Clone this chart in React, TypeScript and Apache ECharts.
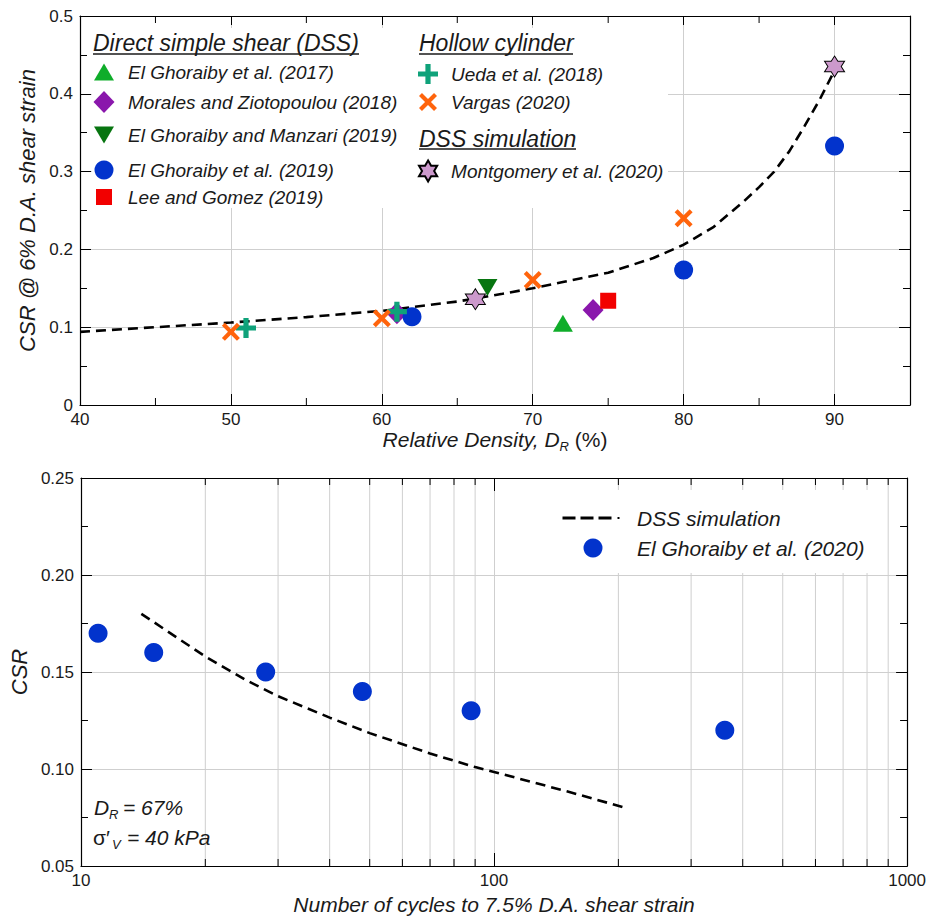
import React, { useEffect, useRef } from 'react';
import * as echarts from 'echarts';

// ---------- DATA (top panel) ----------
const DR_CURVE = [40, 45, 50, 55, 60, 65, 68, 70, 72, 75, 78, 80, 82, 84, 85, 86, 87, 88, 89, 90];
const CSR_CURVE = [0.094, 0.1, 0.106, 0.113, 0.121, 0.133, 0.143, 0.15, 0.158, 0.17, 0.189, 0.206, 0.229, 0.262, 0.28, 0.3, 0.326, 0.358, 0.392, 0.43];

const EG2017_DR = [72];
const EG2017_CSR = [0.105];
const MZ2018_DR = [61, 74];
const MZ2018_CSR = [0.118, 0.122];
const EGM2019_DR = [67];
const EGM2019_CSR = [0.151];
const EG2019_DR = [62, 80, 90];
const EG2019_CSR = [0.1135, 0.1735, 0.333];
const LG2019_DR = [75];
const LG2019_CSR = [0.134];
const UEDA_DR = [51, 61];
const UEDA_CSR = [0.099, 0.12];
const VARGAS_DR = [50, 60, 70, 80];
const VARGAS_CSR = [0.094, 0.1115, 0.1607, 0.24];
const MONT_DR = [66.2, 90];
const MONT_CSR = [0.136, 0.435];

const DR_MINOR_TICKS = [45, 55, 65, 75, 85];

// ---------- DATA (bottom panel) ----------
const SIM_N = [14, 17, 20, 25, 30, 40, 50, 70, 90, 100, 150, 208];
const SIM_CSR = [0.18, 0.168, 0.158, 0.146, 0.1375, 0.1265, 0.1185, 0.108, 0.101, 0.0985, 0.0885, 0.08];
const EXP_N = [11, 15, 28, 48, 88, 362];
const EXP_CSR = [0.17, 0.16, 0.15, 0.14, 0.13, 0.12];
const N_MINOR = [20, 30, 40, 50, 60, 70, 80, 90, 200, 300, 400, 500, 600, 700, 800, 900];

const NAMES = {
  eg2017: 'El Ghoraiby et al. (2017)',
  mz2018: 'Morales and Ziotopoulou (2018)',
  egm2019: 'El Ghoraiby and Manzari (2019)',
  eg2019: 'El Ghoraiby et al. (2019)',
  lg2019: 'Lee and Gomez (2019)',
  ueda: 'Ueda et al. (2018)',
  vargas: 'Vargas (2020)',
  mont: 'Montgomery et al. (2020)',
  sim: 'DSS simulation',
  eg2020: 'El Ghoraiby et al. (2020)',
};

const FONT = '"Liberation Sans", Arial, Helvetica, sans-serif';
const TXT = '#1a1a1a';
const GRIDC = '#cfcfcf';

const C_GREEN = '#0fad2a';
const C_PURPLE = '#8a17ac';
const C_DKGREEN = '#077510';
const C_BLUE = '#0233cc';
const C_RED = '#f20000';
const C_TEAL = '#0fa27a';
const C_ORANGE = '#ff640c';
const C_STAR = '#cc99cc';

const SYM_DOWN = 'path://M0,0L20,0L10,17Z';
const SYM_PLUS = 'path://M7.4,0L12.6,0L12.6,7.4L20,7.4L20,12.6L12.6,12.6L12.6,20L7.4,20L7.4,12.6L0,12.6L0,7.4L7.4,7.4Z';
const SYM_X = 'path://M0,3.3L3.3,0L10,6.7L16.7,0L20,3.3L13.3,10L20,16.7L16.7,20L10,13.3L3.3,20L0,16.7L6.7,10Z';
const SYM_STAR = 'path://M10,0L12.887,5L18.66,5L15.774,10L18.66,15L12.887,15L10,20L7.113,15L1.34,15L4.226,10L1.34,5L7.113,5Z';
const ICON_DASH = 'path://M0,0L13,0L13,3L0,3Z M18,0L31,0L31,3L18,3Z M36,0L49,0L49,3L36,3Z M55,0.5L57,0.5L57,2.5L55,2.5Z';

const zip = (a: number[], b: number[]) => a.map((v, i) => [v, b[i]]);

const minorRender = (gridLine: boolean, yMin: number, yMax: number, len: number) => (params: any, api: any) => {
  const x = api.value(0);
  const b = api.coord([x, yMin]);
  const t = api.coord([x, yMax]);
  const children: any[] = [];
  if (gridLine) {
    children.push({ type: 'line', shape: { x1: b[0], y1: b[1], x2: t[0], y2: t[1] }, style: { stroke: GRIDC, lineWidth: 1 } });
  }
  children.push({ type: 'line', shape: { x1: b[0], y1: b[1], x2: b[0], y2: b[1] - len }, style: { stroke: '#000', lineWidth: 1 } });
  children.push({ type: 'line', shape: { x1: t[0], y1: t[1], x2: t[0], y2: t[1] + len }, style: { stroke: '#000', lineWidth: 1 } });
  return { type: 'group', children };
};

const legendItem = (name: string, cx: number, cy: number, w: number, h: number, textX: number, fs: number, icon?: string) => {
  const lg: any = {
    data: [icon ? { name, icon } : name],
    left: cx - w / 2,
    top: cy - Math.max(h, fs) / 2,
    padding: 0,
    itemWidth: w,
    itemHeight: h,
    selectedMode: false,
    textStyle: {
      fontFamily: FONT,
      fontStyle: 'italic',
      fontSize: fs,
      color: TXT,
      padding: [0, 0, 0, Math.max(0, textX - (cx - w / 2 + w + 5))],
    },
  };
  if (icon) lg.itemStyle = { color: '#000', borderWidth: 0 };
  return lg;
};

const axisBase = {
  axisLine: { show: true, onZero: false, lineStyle: { color: '#000', width: 1.2 } },
  axisTick: { show: true, inside: true, length: 11, lineStyle: { color: '#000', width: 1 } },
};

const tickLabel = { color: TXT, fontSize: 17, fontFamily: FONT };
const solid = (c: string, extra: any = {}) => ({ color: c, opacity: 1, ...extra });

const option: any = {
  animation: false,
  backgroundColor: '#fff',
  grid: [
    { left: 80, right: 19, top: 16, bottom: 515 },
    { left: 77, right: 21, top: 478, bottom: 54 },
  ],
  xAxis: [
    {
      gridIndex: 0, type: 'value', min: 40, max: 95, interval: 10, position: 'bottom',
      ...axisBase,
      axisLabel: { ...tickLabel, margin: 6, showMaxLabel: false },
      splitLine: { show: true, lineStyle: { color: GRIDC, width: 1 } },
      name: '{a|Relative Density, D}{s|R}{b| (%)}',
      nameLocation: 'middle',
      nameGap: 19,
      nameTextStyle: {
        rich: {
          a: { fontFamily: FONT, fontStyle: 'italic', fontSize: 21, color: TXT, lineHeight: 24, verticalAlign: 'top' },
          s: { fontFamily: FONT, fontStyle: 'italic', fontSize: 13, color: TXT, lineHeight: 12, verticalAlign: 'bottom' },
          b: { fontFamily: FONT, fontSize: 21, color: TXT, lineHeight: 24, verticalAlign: 'top' },
        },
      },
    },
    {
      gridIndex: 0, type: 'value', min: 40, max: 95, interval: 10, position: 'top',
      ...axisBase,
      axisTick: { show: true, inside: true, length: 9, lineStyle: { color: '#000', width: 1 } },
      axisLabel: { show: false },
      splitLine: { show: false },
    },
    {
      gridIndex: 1, type: 'log', logBase: 10, min: 10, max: 1000, position: 'bottom',
      ...axisBase,
      axisTick: { show: true, inside: true, length: 13, lineStyle: { color: '#000', width: 1 } },
      axisLabel: { ...tickLabel, margin: 6, formatter: (v: number) => String(Math.round(v)) },
      splitLine: { show: true, lineStyle: { color: GRIDC, width: 1 } },
      name: 'Number of cycles to 7.5% D.A. shear strain',
      nameLocation: 'middle',
      nameGap: 28,
      nameTextStyle: { fontFamily: FONT, fontStyle: 'italic', fontSize: 21, color: TXT },
    },
    {
      gridIndex: 1, type: 'log', logBase: 10, min: 10, max: 1000, position: 'top',
      ...axisBase,
      axisTick: { show: true, inside: true, length: 13, lineStyle: { color: '#000', width: 1 } },
      axisLabel: { show: false },
      splitLine: { show: false },
    },
  ],
  yAxis: [
    {
      gridIndex: 0, type: 'value', min: 0, max: 0.5, interval: 0.1, position: 'left',
      ...axisBase,
      minorTick: { show: true, splitNumber: 2, length: 7, lineStyle: { color: '#000', width: 1 } },
      axisLabel: { ...tickLabel, margin: 7 },
      splitLine: { show: true, lineStyle: { color: GRIDC, width: 1 } },
      name: 'CSR @ 6% D.A. shear strain',
      nameLocation: 'middle',
      nameGap: 37,
      nameTextStyle: { fontFamily: FONT, fontStyle: 'italic', fontSize: 22, color: TXT },
    },
    {
      gridIndex: 0, type: 'value', min: 0, max: 0.5, interval: 0.1, position: 'right',
      ...axisBase,
      minorTick: { show: true, splitNumber: 2, length: 7, lineStyle: { color: '#000', width: 1 } },
      axisLabel: { show: false },
      splitLine: { show: false },
    },
    {
      gridIndex: 1, type: 'value', min: 0.05, max: 0.25, interval: 0.05, position: 'left',
      ...axisBase,
      minorTick: { show: true, splitNumber: 2, length: 7, lineStyle: { color: '#000', width: 1 } },
      axisLabel: { ...tickLabel, margin: 7, formatter: (v: number) => v.toFixed(2) },
      splitLine: { show: true, lineStyle: { color: GRIDC, width: 1 } },
      name: 'CSR',
      nameLocation: 'middle',
      nameGap: 42,
      nameTextStyle: { fontFamily: FONT, fontStyle: 'italic', fontSize: 22, color: TXT },
    },
    {
      gridIndex: 1, type: 'value', min: 0.05, max: 0.25, interval: 0.05, position: 'right',
      ...axisBase,
      minorTick: { show: true, splitNumber: 2, length: 7, lineStyle: { color: '#000', width: 1 } },
      axisLabel: { show: false },
      splitLine: { show: false },
    },
  ],
  legend: [
    legendItem(NAMES.eg2017, 104, 72, 20, 17, 128, 19),
    legendItem(NAMES.mz2018, 104, 102, 21, 22, 128, 19),
    legendItem(NAMES.egm2019, 104, 135, 20, 17, 128, 19),
    legendItem(NAMES.eg2019, 104, 170, 19, 19, 128, 19),
    legendItem(NAMES.lg2019, 104, 197, 16, 16, 128, 19),
    legendItem(NAMES.ueda, 428, 74, 20, 20, 451, 19),
    legendItem(NAMES.vargas, 428, 102, 18, 18, 451, 19),
    legendItem(NAMES.mont, 428, 170, 20, 21, 451, 19),
    legendItem(NAMES.sim, 591, 518, 57, 3, 637, 21, ICON_DASH),
    legendItem(NAMES.eg2020, 593, 548, 19, 19, 637, 21),
  ],
  graphic: [
    { type: 'rect', z: 1, silent: true, shape: { x: 92, y: 28, width: 576, height: 180 }, style: { fill: '#fff' } },
    { type: 'rect', z: 1, silent: true, shape: { x: 548, y: 490, width: 338, height: 83 }, style: { fill: '#fff' } },
    { type: 'text', z: 5, x: 93, y: 43, style: { text: 'Direct simple shear (DSS)', fontFamily: FONT, fontStyle: 'italic', fontSize: 23, fill: TXT, verticalAlign: 'middle' } },
    { type: 'line', z: 5, shape: { x1: 93, y1: 54, x2: 359, y2: 54 }, style: { stroke: TXT, lineWidth: 1.3 } },
    { type: 'text', z: 5, x: 419, y: 43, style: { text: 'Hollow cylinder', fontFamily: FONT, fontStyle: 'italic', fontSize: 23, fill: TXT, verticalAlign: 'middle' } },
    { type: 'line', z: 5, shape: { x1: 419, y1: 54, x2: 573, y2: 54 }, style: { stroke: TXT, lineWidth: 1.3 } },
    { type: 'text', z: 5, x: 419, y: 139, style: { text: 'DSS simulation', fontFamily: FONT, fontStyle: 'italic', fontSize: 23, fill: TXT, verticalAlign: 'middle' } },
    { type: 'line', z: 5, shape: { x1: 419, y1: 149, x2: 576, y2: 149 }, style: { stroke: TXT, lineWidth: 1.3 } },
    { type: 'text', z: 5, x: 94, y: 807, style: { text: 'D', fontFamily: FONT, fontStyle: 'italic', fontSize: 21, fill: TXT, verticalAlign: 'middle' } },
    { type: 'text', z: 5, x: 109, y: 814, style: { text: 'R', fontFamily: FONT, fontStyle: 'italic', fontSize: 13, fill: TXT, verticalAlign: 'middle' } },
    { type: 'text', z: 5, x: 123, y: 807, style: { text: '= 67%', fontFamily: FONT, fontStyle: 'italic', fontSize: 21, fill: TXT, verticalAlign: 'middle' } },
    { type: 'text', z: 5, x: 93, y: 837, style: { text: 'σ′', fontFamily: FONT, fontSize: 21, fill: TXT, verticalAlign: 'middle' } },
    { type: 'text', z: 5, x: 112, y: 844, style: { text: 'V', fontFamily: FONT, fontStyle: 'italic', fontSize: 13, fill: TXT, verticalAlign: 'middle' } },
    { type: 'text', z: 5, x: 127, y: 837, style: { text: '= 40 kPa', fontFamily: FONT, fontStyle: 'italic', fontSize: 21, fill: TXT, verticalAlign: 'middle' } },
  ],
  series: [
    {
      type: 'custom', name: 'minor-top', xAxisIndex: 0, yAxisIndex: 0, z: 0, silent: true,
      data: DR_MINOR_TICKS.map((v) => [v, 0]),
      renderItem: minorRender(false, 0, 0.5, 7),
    },
    {
      type: 'line', name: 'DSS curve', xAxisIndex: 0, yAxisIndex: 0, z: 2,
      data: zip(DR_CURVE, CSR_CURVE), symbol: 'none', showSymbol: false, smooth: false,
      lineStyle: { color: '#000', width: 2.6, type: [10, 6] },
    },
    { type: 'scatter', name: NAMES.eg2017, xAxisIndex: 0, yAxisIndex: 0, data: zip(EG2017_DR, EG2017_CSR), symbol: 'triangle', symbolSize: [20, 17], itemStyle: solid(C_GREEN) },
    { type: 'scatter', name: NAMES.mz2018, xAxisIndex: 0, yAxisIndex: 0, data: zip(MZ2018_DR, MZ2018_CSR), symbol: 'diamond', symbolSize: [21, 22], itemStyle: solid(C_PURPLE) },
    { type: 'scatter', name: NAMES.egm2019, xAxisIndex: 0, yAxisIndex: 0, data: zip(EGM2019_DR, EGM2019_CSR), symbol: SYM_DOWN, symbolSize: [20, 17], itemStyle: solid(C_DKGREEN) },
    { type: 'scatter', name: NAMES.eg2019, xAxisIndex: 0, yAxisIndex: 0, data: zip(EG2019_DR, EG2019_CSR), symbol: 'circle', symbolSize: 19, itemStyle: solid(C_BLUE) },
    { type: 'scatter', name: NAMES.lg2019, xAxisIndex: 0, yAxisIndex: 0, data: zip(LG2019_DR, LG2019_CSR), symbol: 'rect', symbolSize: 16, itemStyle: solid(C_RED) },
    { type: 'scatter', name: NAMES.ueda, xAxisIndex: 0, yAxisIndex: 0, data: zip(UEDA_DR, UEDA_CSR), symbol: SYM_PLUS, symbolSize: 20, itemStyle: solid(C_TEAL) },
    { type: 'scatter', name: NAMES.vargas, xAxisIndex: 0, yAxisIndex: 0, data: zip(VARGAS_DR, VARGAS_CSR), symbol: SYM_X, symbolSize: 18, itemStyle: solid(C_ORANGE) },
    { type: 'scatter', name: NAMES.mont, xAxisIndex: 0, yAxisIndex: 0, data: zip(MONT_DR, MONT_CSR), symbol: SYM_STAR, symbolSize: [20, 21], itemStyle: solid(C_STAR, { borderColor: '#000', borderWidth: 1 }) },
    {
      type: 'custom', name: 'minor-bottom', xAxisIndex: 2, yAxisIndex: 2, z: 0, silent: true,
      data: N_MINOR.map((v) => [v, 0.1]),
      renderItem: minorRender(true, 0.05, 0.25, 7),
    },
    {
      type: 'line', name: NAMES.sim, xAxisIndex: 2, yAxisIndex: 2, z: 2,
      data: zip(SIM_N, SIM_CSR), symbol: 'none', showSymbol: false, smooth: false,
      lineStyle: { color: '#000', width: 2.6, type: [10, 6] },
      itemStyle: { color: '#000' },
    },
    { type: 'scatter', name: NAMES.eg2020, xAxisIndex: 2, yAxisIndex: 2, data: zip(EXP_N, EXP_CSR), symbol: 'circle', symbolSize: 19, itemStyle: solid(C_BLUE) },
  ],
};

export default function App() {
  const ref = useRef<HTMLDivElement>(null);
  useEffect(() => {
    if (!ref.current) return;
    const chart = echarts.init(ref.current, null, { renderer: 'svg' });
    chart.setOption(option);
    return () => chart.dispose();
  }, []);
  return (
    <div
      ref={ref}
      style={{ position: 'absolute', left: 0, top: 0, width: 929, height: 920, background: '#fff' }}
    />
  );
}
